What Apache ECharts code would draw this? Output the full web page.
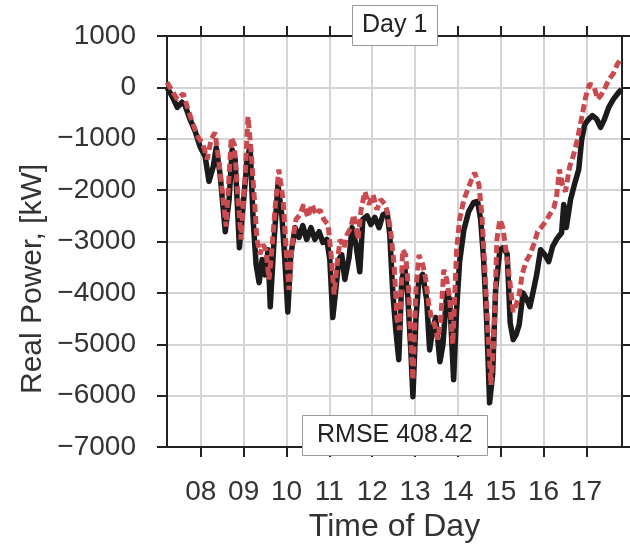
<!DOCTYPE html>
<html>
<head>
<meta charset="utf-8">
<script src="https://cdn.jsdelivr.net/npm/echarts@6/dist/echarts.min.js"></script>
<style>
  html, body { margin: 0; padding: 0; background: #fff; }
  #main { width: 630px; height: 545px; }
</style>
</head>
<body>
<div id="main"></div>
<script>
// time of day in hours, real power in kW
var measuredTime = [7.21,7.33,7.45,7.56,7.63,7.75,7.87,7.98,8.10,8.19,8.29,8.36,8.45,8.57,8.66,8.73,8.80,8.90,8.99,9.08,9.15,9.22,9.29,9.36,9.43,9.50,9.57,9.62,9.71,9.80,9.89,9.96,10.03,10.10,10.20,10.29,10.38,10.47,10.57,10.66,10.76,10.85,10.94,11.01,11.08,11.15,11.22,11.29,11.36,11.46,11.53,11.62,11.71,11.78,11.88,11.97,12.06,12.16,12.25,12.35,12.41,12.48,12.55,12.62,12.69,12.76,12.83,12.90,12.95,13.02,13.09,13.18,13.27,13.34,13.41,13.48,13.58,13.65,13.74,13.81,13.90,13.97,14.04,14.14,14.25,14.37,14.46,14.53,14.60,14.67,14.74,14.81,14.88,14.98,15.05,15.15,15.22,15.29,15.36,15.43,15.52,15.61,15.68,15.75,15.84,15.93,16.03,16.12,16.21,16.30,16.42,16.47,16.53,16.63,16.72,16.82,16.89,16.96,17.05,17.14,17.24,17.33,17.42,17.52,17.63,17.75,17.82];
var measuredPower = [0,-175,-390,-290,-350,-625,-860,-1150,-1345,-1830,-1540,-1170,-1700,-2810,-2180,-1210,-1400,-3120,-2280,-1400,-1150,-2570,-3450,-3800,-3350,-3650,-3160,-4270,-2960,-1890,-2480,-3350,-4370,-3260,-2730,-2920,-2690,-2960,-2730,-2960,-2810,-3020,-2960,-3350,-4480,-3940,-3350,-3260,-3740,-3310,-2730,-3060,-3590,-2570,-2500,-2670,-2530,-2730,-2480,-2440,-2870,-4000,-4720,-5300,-3740,-3510,-4070,-5110,-6020,-4520,-3740,-3640,-4130,-5110,-4720,-4480,-5340,-5010,-4000,-4130,-5690,-4330,-3390,-2770,-2420,-2240,-2220,-2570,-3350,-4520,-6140,-5590,-3940,-3160,-3120,-3240,-4580,-4910,-4810,-4620,-4000,-4130,-4270,-4000,-3640,-3160,-3260,-3390,-3100,-2960,-2830,-2280,-2730,-2180,-1890,-1600,-1010,-720,-620,-550,-620,-780,-620,-390,-230,-100,-40];

var modelTime = [7.21,7.28,7.45,7.59,7.70,7.82,7.94,8.05,8.15,8.24,8.33,8.43,8.52,8.59,8.66,8.71,8.78,8.87,8.94,9.03,9.10,9.17,9.25,9.31,9.38,9.45,9.52,9.59,9.64,9.73,9.82,9.92,9.99,10.06,10.13,10.22,10.31,10.40,10.50,10.59,10.69,10.78,10.87,10.97,11.04,11.11,11.18,11.25,11.34,11.41,11.50,11.57,11.67,11.74,11.83,11.92,12.02,12.11,12.20,12.30,12.37,12.44,12.51,12.58,12.64,12.71,12.78,12.85,12.90,12.95,13.02,13.09,13.18,13.25,13.32,13.39,13.46,13.53,13.60,13.67,13.74,13.81,13.88,13.97,14.04,14.14,14.23,14.32,14.39,14.49,14.56,14.63,14.70,14.77,14.84,14.91,14.98,15.05,15.12,15.22,15.29,15.36,15.43,15.50,15.59,15.68,15.77,15.86,15.96,16.05,16.14,16.24,16.30,16.37,16.44,16.51,16.61,16.70,16.79,16.89,16.98,17.07,17.17,17.26,17.35,17.44,17.53,17.63,17.72,17.82];
var modelPower = [100,0,-230,-120,-430,-720,-975,-1110,-1400,-1010,-880,-1500,-2180,-2710,-1700,-975,-1110,-2180,-2960,-1790,-570,-1210,-2180,-2960,-3250,-3060,-3160,-3740,-3350,-2380,-1600,-2180,-3160,-3940,-3060,-2570,-2480,-2280,-2530,-2280,-2480,-2380,-2570,-2670,-3260,-4030,-3450,-2960,-3120,-2870,-2730,-2480,-2960,-2380,-2030,-2280,-2090,-2380,-2180,-2280,-2480,-2870,-3450,-4520,-4720,-3160,-3260,-3940,-4910,-5690,-3940,-3260,-3450,-3740,-4230,-4520,-4620,-4910,-4520,-3550,-3740,-4130,-5000,-3160,-2570,-2180,-1990,-1790,-1660,-1890,-2480,-3550,-4720,-5790,-4910,-2960,-2570,-2730,-3160,-3840,-4370,-4230,-4030,-3640,-3390,-3260,-3060,-2810,-2710,-2610,-2480,-2340,-2140,-1600,-1890,-2030,-1540,-1310,-1010,-585,-195,60,40,-230,-140,0,160,270,450,585];

var hourTicks = [8, 9, 10, 11, 12, 13, 14, 15, 16, 17];
var dayTitle = 'Day 1';
var rmseText = 'RMSE 408.42';

function zip(xs, ys) {
    return xs.map(function (x, i) { return [x, ys[i]]; });
}

var myChart = echarts.init(document.getElementById('main'));

var textColor = '#333';
var axisColor = '#222';
var gridColor = '#d4d4d4';
var font = 'Liberation Sans, Arial, sans-serif';

var option = {
    animation: false,
    textStyle: { fontFamily: font },
    title: [
        {
            text: dayTitle,
            left: 352, top: 5,
            padding: [8, 10],
            backgroundColor: '#fff',
            borderColor: '#9a9a9a',
            borderWidth: 1,
            textStyle: { fontSize: 25, fontWeight: 'normal', color: '#222', fontFamily: font }
        },
        {
            text: rmseText,
            left: 302, top: 415,
            padding: [8, 15],
            backgroundColor: '#fff',
            borderColor: '#9a9a9a',
            borderWidth: 1,
            textStyle: { fontSize: 25, fontWeight: 'normal', color: '#222', fontFamily: font }
        }
    ],
    graphic: [
        {
            type: 'text',
            x: 33, y: 279,
            rotation: Math.PI / 2,
            style: {
                text: 'Real Power, [kW]',
                fontSize: 30,
                fontFamily: font,
                fill: textColor,
                align: 'center',
                verticalAlign: 'middle'
            }
        }
    ],
    grid: { left: 167, right: 8, top: 36, bottom: 98, outerBoundsMode: 'none' },
    xAxis: [
        {
            type: 'value',
            position: 'bottom',
            min: 7.21, max: 17.83,
            name: 'Time of Day',
            nameLocation: 'middle',
            nameGap: 64,
            nameTextStyle: { fontSize: 32, color: textColor, fontFamily: font },
            axisLine: { show: true, onZero: false, lineStyle: { color: axisColor, width: 2 } },
            axisTick: { show: true, length: 10, customValues: hourTicks, lineStyle: { color: axisColor, width: 2 } },
            axisLabel: {
                customValues: hourTicks,
                fontSize: 28, color: textColor, margin: 31,
                formatter: function (v) { return (v < 10 ? '0' : '') + v; }
            },
            splitLine: { show: true, lineStyle: { color: gridColor, width: 2 } }
        },
        {
            type: 'value',
            position: 'top',
            min: 7.21, max: 17.83,
            axisLine: { show: true, onZero: false, lineStyle: { color: axisColor, width: 2 } },
            axisTick: { show: true, length: 10, customValues: hourTicks, lineStyle: { color: axisColor, width: 2 } },
            axisLabel: { show: false, customValues: hourTicks },
            splitLine: { show: false }
        }
    ],
    yAxis: [
        {
            type: 'value',
            position: 'left',
            min: -7000, max: 1000, interval: 1000,
            axisLine: { show: true, onZero: false, lineStyle: { color: axisColor, width: 2 } },
            axisTick: { show: true, length: 10, lineStyle: { color: axisColor, width: 2 } },
            axisLabel: {
                fontSize: 28, color: textColor, margin: 31,
                formatter: function (v) { return String(v).replace('-', '\u2212'); }
            },
            splitLine: { show: true, lineStyle: { color: gridColor, width: 2 } }
        },
        {
            type: 'value',
            position: 'right',
            min: -7000, max: 1000, interval: 1000,
            axisLine: { show: true, onZero: false, lineStyle: { color: axisColor, width: 2 } },
            axisTick: { show: true, length: 10, lineStyle: { color: axisColor, width: 2 } },
            axisLabel: { show: false },
            splitLine: { show: false }
        }
    ],
    series: [
        {
            name: 'Measured',
            type: 'line',
            xAxisIndex: 0, yAxisIndex: 0,
            showSymbol: false,
            data: zip(measuredTime, measuredPower),
            lineStyle: { color: '#1b1b1b', width: 5.5, join: 'round' },
            z: 2
        },
        {
            name: 'Model',
            type: 'line',
            xAxisIndex: 0, yAxisIndex: 0,
            showSymbol: false,
            data: zip(modelTime, modelPower),
            lineStyle: { color: '#c94b50', width: 5, type: [8, 4] },
            z: 3
        }
    ]
};
myChart.setOption(option);
</script>
</body>
</html>
